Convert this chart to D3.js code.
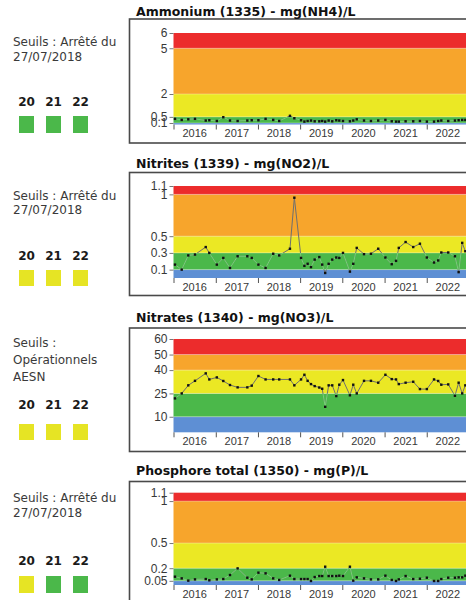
<!DOCTYPE html>
<html>
<head>
<meta charset="utf-8">
<script src="https://cdn.jsdelivr.net/npm/d3@7"></script>
<style>
  body { margin: 0; background: #fff; }
  svg { display: block; }
</style>
</head>
<body>
<svg id="chart" width="466" height="600"></svg>
<script>
// sampling dates (same for every parameter)
const dates = [
  "2016-01-14","2016-03-12","2016-05-08","2016-07-05","2016-10-06","2016-11-06",
  "2017-01-10","2017-03-07","2017-05-04","2017-07-09","2017-10-01","2017-11-08",
  "2018-01-05","2018-03-08","2018-05-13","2018-07-04","2018-10-05","2018-11-12",
  "2019-01-09","2019-02-07","2019-03-07","2019-04-05","2019-05-07","2019-06-16",
  "2019-07-11","2019-08-06","2019-09-05","2019-10-06","2019-11-10","2019-12-06",
  "2020-01-07","2020-03-07","2020-04-05","2020-05-05","2020-07-07","2020-09-05","2020-11-07",
  "2021-01-08","2021-03-04","2021-04-10","2021-05-04","2021-07-02","2021-09-06","2021-11-03",
  "2022-01-02","2022-03-05","2022-04-10","2022-05-07","2022-07-06","2022-09-02",
  "2022-10-04","2022-11-04","2022-12-01"
];

const ammonium = [
  0.37, 0.30, 0.34, 0.37, 0.26, 0.28,
  0.23, 0.48, 0.26, 0.23, 0.26, 0.28,
  0.28, 0.37, 0.30, 0.23, 0.57, 0.41,
  0.28, 0.19, 0.23, 0.26, 0.21, 0.21, 0.23, 0.19, 0.26, 0.21, 0.28, 0.26,
  0.23, 0.21, 0.26, 0.34, 0.26, 0.23, 0.26,
  0.30, 0.21, 0.19, 0.19, 0.21, 0.21, 0.23,
  0.19, 0.19, 0.23, 0.26, 0.23, 0.26, 0.28, 0.30, 0.30
];

const nitrites = [
  0.16, 0.10, 0.27, 0.28, 0.37, 0.30,
  0.16, 0.24, 0.12, 0.26, 0.26, 0.24,
  0.16, 0.12, 0.29, 0.27, 0.35, 0.96,
  0.24, 0.145, 0.17, 0.13, 0.22, 0.25, 0.16, 0.06, 0.17, 0.22, 0.245, 0.24,
  0.30, 0.076, 0.17, 0.36, 0.285, 0.29, 0.35,
  0.245, 0.165, 0.205, 0.36, 0.43, 0.37, 0.41,
  0.245, 0.185, 0.21, 0.305, 0.305, 0.26, 0.07, 0.42, 0.32
];

const nitrates = [
  21.8, 25, 30.2, 33.1, 37.9, 34,
  35.3, 33, 30.4, 28.9, 28.9, 30,
  36.2, 34, 34, 34, 34, 30.2,
  34, 37, 33.1, 31, 29.7, 28.8, 28, 16.4, 30.2, 30.2, 23.3, 30.6,
  33.6, 23.8, 30.6, 25, 33.1, 33.1, 31.9,
  37, 34.2, 34, 31, 31.9, 32.5, 27.8,
  27.8, 34, 33, 30.6, 30.8, 23.5, 31.9, 25, 30.2
];

const phosphore = [
  0.099, 0.079, 0.052, 0.067, 0.071, 0.056,
  0.067, 0.071, 0.119, 0.198, 0.087, 0.067,
  0.147, 0.139, 0.079, 0.060, 0.111, 0.071,
  0.071, 0.071, 0.071, 0.048, 0.095, 0.107, 0.107, 0.218, 0.107, 0.107, 0.107, 0.111,
  0.107, 0.218, 0.052, 0.091, 0.079, 0.067, 0.067,
  0.111, 0.060, 0.048, 0.067, 0.107, 0.071, 0.075,
  0.087, 0.048, 0.048, 0.071, 0.087, 0.087, 0.091, 0.091, 0.111
];

const titles = [
  "Ammonium (1335) - mg(NH4)/L",
  "Nitrites (1339) - mg(NO2)/L",
  "Nitrates (1340) - mg(NO3)/L",
  "Phosphore total (1350) - mg(P)/L"
];

const seuilsArrete = ["Seuils : Arrêté du", "27/07/2018"];
const seuilsAesn = ["Seuils :", "Opérationnels", "AESN"];

// class limits : très bon | bon | moyen | médiocre | mauvais
const limitsAmmonium = [0, 0.1, 0.5, 2, 5, 6];
const limitsNitrites = [0, 0.1, 0.3, 0.5, 1, 1.1];
const limitsNitrates = [0, 10, 25, 40, 50, 60];
const limitsPhosphore = [0, 0.05, 0.2, 0.5, 1, 1.1];

const years = [2016, 2017, 2018, 2019, 2020, 2021, 2022];
const yearCodes = ["20", "21", "22"];

const statusAmmonium = ["bon", "bon", "bon"];
const statusNitrites = ["moyen", "moyen", "moyen"];
const statusNitrates = ["moyen", "moyen", "moyen"];
const statusPhosphore = ["moyen", "bon", "bon"];

const classColors = ["#5e8fd4", "#4bb84a", "#ebe824", "#f7a52c", "#ec2c2c"];
const statusColors = { bon: "#4bb84a", moyen: "#e6e424" };

// page layout for each panel
const layout = [
  { top: 19,    bottom: 143,   plotTop: 33,    plotBottom: 124.5, titleY: 16,  textY: [46, 60.5],         numY: 106,   sqY: 116, sqH: 17 },
  { top: 172.5, bottom: 295.5, plotTop: 186,   plotBottom: 278,   titleY: 168, textY: [199.5, 214],       numY: 259.5, sqY: 270, sqH: 16 },
  { top: 328,   bottom: 451.5, plotTop: 339,   plotBottom: 432.3, titleY: 322, textY: [347, 364, 380.5],  numY: 408.5, sqY: 424, sqH: 16 },
  { top: 481.5, bottom: 640,   plotTop: 492.7, plotBottom: 585,   titleY: 475, textY: [502, 517],         numY: 565,   sqY: 576, sqH: 17 }
];

const parse = d3.timeParse("%Y-%m-%d");
const svg = d3.select("#chart");

const xScale = d3.scaleTime()
  .domain([new Date(2016, 0, 1), new Date(2023, 1, 1)])
  .range([173.5, 472.5]);

const drawPanel = (i, title, values, limits, seuils, status) => {
  const L = layout[i];
  const g = svg.append("g");
  const data = dates.map((d, k) => ({ date: parse(d), v: values[k] }));

  const yScale = d3.scaleLinear()
    .domain([0, limits[limits.length - 1]])
    .range([L.plotBottom, L.plotTop]);

  // frame + title
  g.append("rect")
    .attr("x", 129.5).attr("y", L.top)
    .attr("width", 420).attr("height", L.bottom - L.top)
    .attr("fill", "#fff").attr("stroke", "#4a4a4a").attr("stroke-width", 1.6);

  g.append("text")
    .attr("x", 136).attr("y", L.titleY)
    .style("font-family", "DejaVu Sans").style("font-weight", "bold")
    .style("font-size", "12.5px").attr("fill", "#111")
    .text(title);

  // class bands
  const x0 = xScale.range()[0], x1 = xScale.range()[1];
  for (let k = 0; k < limits.length - 1; k++) {
    g.append("rect")
      .attr("x", x0).attr("width", x1 - x0)
      .attr("y", yScale(limits[k + 1]))
      .attr("height", yScale(limits[k]) - yScale(limits[k + 1]))
      .attr("fill", classColors[k]);
  }
  limits.slice(1, -1).forEach(v => {
    g.append("line")
      .attr("x1", x0).attr("x2", x1)
      .attr("y1", yScale(v)).attr("y2", yScale(v))
      .attr("stroke", "#fff").attr("stroke-opacity", 0.3).attr("stroke-width", 1);
  });

  // line: gray, lighter green where it crosses the green band
  const line = d3.line().x(d => xScale(d.date)).y(d => yScale(d.v));
  g.append("path").datum(data)
    .attr("d", line).attr("fill", "none")
    .attr("stroke", "#6f6f6f").attr("stroke-width", 1);

  const clipId = "greenclip" + i;
  svg.append("clipPath").attr("id", clipId)
    .append("rect")
    .attr("x", x0).attr("width", x1 - x0)
    .attr("y", yScale(limits[2]))
    .attr("height", yScale(limits[1]) - yScale(limits[2]));
  g.append("path").datum(data)
    .attr("d", line).attr("fill", "none")
    .attr("clip-path", `url(#${clipId})`)
    .attr("stroke", "#74d874").attr("stroke-width", 1);

  g.selectAll(".pt").data(data).enter()
    .append("rect").attr("class", "pt")
    .attr("x", d => xScale(d.date) - 1.2)
    .attr("y", d => yScale(d.v) - 1.2)
    .attr("width", 2.4).attr("height", 2.4)
    .attr("fill", "#111");

  // y axis (class limits only)
  const yAxis = d3.axisLeft(yScale)
    .tickValues(limits.slice(1))
    .tickFormat(d => String(d))
    .tickSize(4).tickPadding(2);
  const ya = g.append("g").attr("transform", `translate(${x0},0)`).call(yAxis);
  ya.select(".domain").remove();
  ya.selectAll("line").attr("stroke", "#777");
  ya.selectAll("text")
    .style("font-family", "Liberation Sans").style("font-size", "12px").attr("fill", "#383838");

  // x axis: ticks at year boundaries, labels in the middle of the year
  const xAxis = d3.axisBottom(xScale)
    .tickValues(years.concat([2023]).map(y => new Date(y, 0, 1)))
    .tickFormat("").tickSize(5);
  const xa = g.append("g").attr("transform", `translate(0,${L.plotBottom})`).call(xAxis);
  xa.select(".domain").remove();
  xa.selectAll("line").attr("stroke", "#555");

  g.selectAll(".yr").data(years).enter()
    .append("text").attr("class", "yr")
    .attr("x", d => xScale(new Date(d, 6, 2)))
    .attr("y", L.plotBottom + 12.5)
    .attr("text-anchor", "middle")
    .style("font-family", "Liberation Sans").style("font-size", "11px")
    .attr("fill", "#383838")
    .text(d => d);

  // left column: thresholds reference and yearly status
  seuils.forEach((s, k) => {
    g.append("text")
      .attr("x", 13).attr("y", L.textY[k])
      .style("font-family", "DejaVu Sans").style("font-size", "12px")
      .attr("fill", "#3a3a3a")
      .text(s);
  });

  yearCodes.forEach((c, k) => {
    const cx = 26.5 + k * 27;
    g.append("text")
      .attr("x", cx).attr("y", L.numY)
      .attr("text-anchor", "middle")
      .style("font-family", "DejaVu Sans").style("font-weight", "bold")
      .style("font-size", "12px").attr("fill", "#1a1a1a")
      .text(c);
    g.append("rect")
      .attr("x", cx - 7.5).attr("y", L.sqY)
      .attr("width", 15).attr("height", L.sqH)
      .attr("fill", statusColors[status[k]]);
  });
};

drawPanel(0, titles[0], ammonium, limitsAmmonium, seuilsArrete, statusAmmonium);
drawPanel(1, titles[1], nitrites, limitsNitrites, seuilsArrete, statusNitrites);
drawPanel(2, titles[2], nitrates, limitsNitrates, seuilsAesn, statusNitrates);
drawPanel(3, titles[3], phosphore, limitsPhosphore, seuilsArrete, statusPhosphore);
</script>
</body>
</html>
